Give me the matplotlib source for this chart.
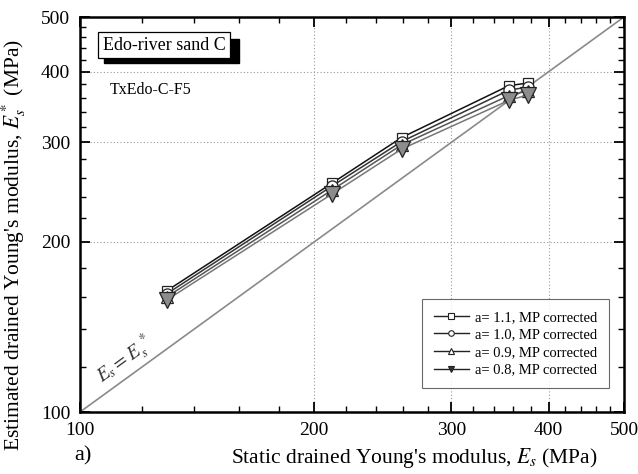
import matplotlib
matplotlib.use("Agg")
import matplotlib.pyplot as plt
from matplotlib.ticker import FixedLocator, NullFormatter, FixedFormatter
from matplotlib.patches import Rectangle

plt.rcParams['font.family'] = ['Liberation Serif', 'DejaVu Serif']
plt.rcParams['mathtext.fontset'] = 'stix'

# Static drained Young's modulus (MPa)
static_E = [129.4, 210.7, 259.0, 355.7, 376.0]

# Estimated drained Young's modulus for each correction factor a (MPa)
est_a11 = [164, 254, 306, 378, 382]
est_a10 = [162, 251, 301, 371, 376]
est_a09 = [160, 247, 297, 363, 370]
est_a08 = [158, 243, 292, 356, 364]

series_labels = ['a= 1.1, MP corrected', 'a= 1.0, MP corrected',
                 'a= 0.9, MP corrected', 'a= 0.8, MP corrected']

major_ticks = [100, 200, 300, 400, 500]
minor_ticks = [120, 140, 160, 180, 220, 240, 260, 280, 320, 340, 360, 380,
               420, 440, 460, 480]

fig = plt.figure(figsize=(6.38, 4.74), dpi=100)
ax = fig.add_axes([0.1254, 0.1308, 0.8526, 0.8333])
ax.set_xscale('log')
ax.set_yscale('log')
ax.set_xlim(100, 500)
ax.set_ylim(100, 500)

# identity line
ax.plot([100, 500], [100, 500], color='#8a8a8a', lw=1.2, zorder=2)

styles = [
    (est_a11, 's', 'white', 7.5, '#111111'),
    (est_a10, 'o', 'white', 8, '#333333'),
    (est_a09, '^', 'white', 9, '#555555'),
    (est_a08, 'v', '#8c8c8c', 11, '#777777'),
]
for i in reversed(range(4)):
    vals, mk, fc, ms, lc = styles[i]
    ax.plot(static_E, vals, marker=mk, markerfacecolor=fc,
            markeredgecolor='#222222', markeredgewidth=0.9,
            markersize=ms, color=lc, lw=1.1, zorder=3 + i * 0.1)

# legend with small markers
leg_handles = []
for i in range(4):
    vals, mk, fc, ms, lc = styles[i]
    lh, = ax.plot([], [], marker=mk,
                  markerfacecolor='white' if i < 3 else '#333333',
                  markeredgecolor='#222222', markeredgewidth=0.8,
                  markersize=4, color='#222222', lw=1.0)
    leg_handles.append(lh)
leg = ax.legend(leg_handles, series_labels, loc='lower right',
                bbox_to_anchor=(0.972, 0.06), fontsize=10.5, frameon=True,
                fancybox=False, edgecolor='#444444', handlelength=2.4,
                handletextpad=0.4, labelspacing=0.3, borderpad=0.8,
                borderaxespad=0.0)
leg.get_frame().set_linewidth(0.8)

for axis in (ax.xaxis, ax.yaxis):
    axis.set_major_locator(FixedLocator(major_ticks))
    axis.set_major_formatter(FixedFormatter([str(t) for t in major_ticks]))
    axis.set_minor_locator(FixedLocator(minor_ticks))
    axis.set_minor_formatter(NullFormatter())

ax.tick_params(which='both', direction='in', top=True, right=True,
               labelsize=14, colors='black')
ax.tick_params(which='major', length=7, width=1.3, pad=7)
ax.tick_params(which='minor', length=4, width=1.0)
for sp in ax.spines.values():
    sp.set_linewidth(1.8)

ax.grid(True, which='major', linestyle=(0, (1, 2)), color='#999999', lw=0.8)
ax.set_axisbelow(True)

ax.set_xlabel("Static drained Young's modulus, $E_s$ (MPa)", fontsize=15.5)
ax.set_ylabel("Estimated drained Young's modulus, $E_s^*$ (MPa)",
              fontsize=15.5)
ax.xaxis.set_label_coords(0.614, -0.085)
ax.yaxis.set_label_coords(-0.095, 0.423)

# line label along identity
ax.text(0.02, 0.055, r'$E_s = E_s^{\ *}$', transform=ax.transAxes,
        rotation=36, fontsize=14, color='#333333',
        ha='left', va='bottom')

# title box with shadow
fig.patches.append(Rectangle((104 / 638, 1 - 63 / 474), 135 / 638, 24 / 474,
                             transform=fig.transFigure, facecolor='black',
                             edgecolor='black', zorder=5))
fig.text(164 / 638, 1 - 45 / 474, 'Edo-river sand C', fontsize=13,
         ha='center', va='center', zorder=6,
         bbox=dict(boxstyle='square,pad=0.25', facecolor='white',
                   edgecolor='black', lw=0.9))
fig.text(110 / 638, 1 - 90 / 474, 'TxEdo-C-F5', fontsize=11.5,
         ha='left', va='center')

fig.text(74 / 638, 1 - 456 / 474, 'a)', fontsize=16, ha='left', va='center')

fig.savefig('out.png', dpi=100)
